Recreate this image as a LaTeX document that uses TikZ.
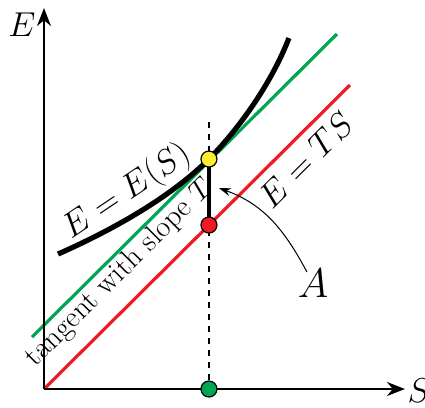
\documentclass[tikz,border=0pt]{standalone}
\usepackage{amsmath, amssymb}
\usepackage{tikz}
\usetikzlibrary{calc, arrows.meta}
\usepackage{tkz-euclide}

\definecolor{lred}{RGB}{237,28,36}
\definecolor{lgreen}{RGB}{0,166,81}
\definecolor{dyellow}{RGB}{250,236,50}

\begin{document}
\begin{tikzpicture}[scale=1.757,
    axis/.style={line width=1pt, -{Stealth[length=9pt,width=7pt]}},
    dot/.style={circle, draw=black, line width=0.6pt, inner sep=0pt, minimum size=8pt},
    lbl/.style={font=\fontsize{16}{19}\selectfont}]
                \useasboundingbox (0,0) rectangle (4.25,4.07);
                \tkzDefPoints{0.44/0.18/O, 4.05/0.18/X, 0.44/3.99/Y, 3.50/3.22/R, 0.32/0.70/G1, 3.37/3.73/G2}
                \tkzDefPoints{2.09/2.48/P, 2.09/1.82/Q, 2.09/0.18/M, 2.09/2.85/D}
                \tkzDefPoints{0.58/1.53/C1, 2.89/3.69/C2, 3.07/1.35/As, 2.19/2.19/Ae}
                % guide line and the two straight lines
                \draw[dashed, line width=0.7pt] (D) -- (M);
                \draw[lred, line width=1.6pt] (O) -- (R);
                \draw[lgreen, line width=1.6pt] (G1) -- (G2);
                % the curve E(S) and the gap A
                \draw[line width=2.6pt] (C1) .. controls (1.08,1.75) and (1.69,2.08) .. (P)
                    .. controls (2.35,2.74) and (2.70,3.20) .. (C2);
                \draw[line width=2pt] (P) -- (Q);
                \draw[axis] (O) -- (X);
                \draw[axis] (O) -- (Y);
                \node[dot, fill=dyellow] (p) at (P) {};
                \node[dot, fill=lred] (q) at (Q) {};
                \node[dot, fill=lgreen] (m) at (M) {};
                \node[font=\fontsize{18}{20}\selectfont] (e) at (0.22,3.82) {$E$};
                \node[font=\fontsize{18}{20}\selectfont] (s) at (4.19,0.16) {$S$};
                \node[font=\fontsize{21}{24}\selectfont] (a) at (3.13,1.24) {$A$};
                \draw[line width=0.5pt, -{Stealth[length=6pt,width=4pt]}] (As) to[out=118, in=-20] (Ae);
                \node[lbl, font=\fontsize{17}{20}\selectfont, rotate=34] (es) at (1.27,2.15) {$E = E(S)$};
                \node[lbl, font=\fontsize{15}{18}\selectfont, rotate=45] (tg) at (1.20,1.34) {tangent with slope $T$};
                \node[lbl, rotate=45] (ts) at (3.06,2.47) {$E = TS$};
            \end{tikzpicture}
\end{document}
